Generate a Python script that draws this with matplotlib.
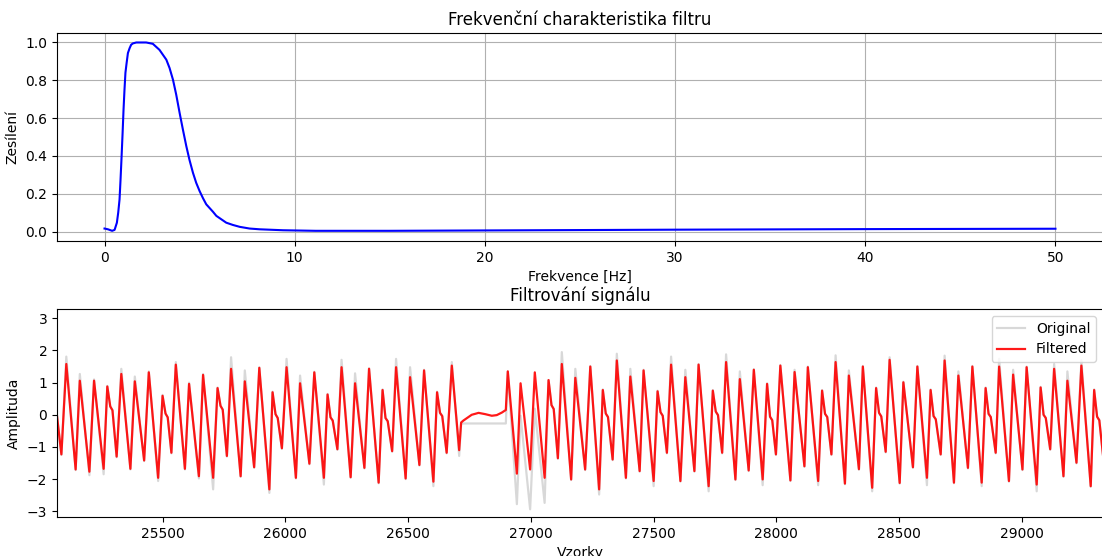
import numpy as np
import matplotlib.pyplot as plt

# frekvencni charakteristika
freq = [0, 0.18, 0.40, 0.53, 0.65, 0.72, 0.79, 0.84, 0.89, 0.95, 1.0, 1.05, 1.1,
        1.16, 1.23, 1.32, 1.4, 1.49, 1.67, 2.19, 2.54, 2.89, 3.07, 3.25, 3.42,
        3.6, 3.77, 3.95, 4.12, 4.3, 4.47, 4.65, 4.82, 5.0, 5.18, 5.35, 5.70, 5.88,
        6.4, 6.75, 7.11, 7.63, 8.16, 9.39, 11.1, 15, 20, 30, 40, 50]
gain = [0.016, 0.012, 0.004, 0.009, 0.047, 0.10, 0.17, 0.27, 0.38, 0.52, 0.645,
        0.75, 0.84, 0.89, 0.944, 0.97, 0.988, 0.995, 1.0, 1.0, 0.993, 0.961,
        0.935, 0.909, 0.865, 0.803, 0.724, 0.627, 0.54, 0.452, 0.378, 0.311,
        0.258, 0.214, 0.176, 0.144, 0.105, 0.083, 0.047, 0.035, 0.025, 0.016,
        0.012, 0.007, 0.004, 0.004, 0.006, 0.010, 0.013, 0.015]

# vrcholy signalu: vzorek, filtrovany, original
peak_x = [25108, 25163, 25221, 25275, 25332, 25387, 25444, 25500, 25554, 25608,
          25665, 25724, 25779, 25835, 25894, 25948, 26005, 26060, 26118, 26172,
          26229, 26284, 26341, 26396, 26451, 26508, 26565, 26618, 26678, 26906,
          26958, 27016, 27072, 27126, 27181, 27242, 27293, 27350, 27405, 27459,
          27516, 27571, 27629, 27683, 27741, 27795, 27851, 27908, 27962, 28016,
          28074, 28128, 28186, 28241, 28295, 28352, 28406, 28461, 28517, 28574,
          28628, 28685, 28741, 28798, 28852, 28907, 28964, 29019, 29076, 29131,
          29185, 29242, 29294]
peak_filt = [1.58, 1.06, 1.06, 0.88, 1.27, 1.04, 1.32, 0.59, 1.56, 0.96,
             1.24, 0.83, 1.43, 1.04, 1.46, 0.70, 1.48, 0.98, 1.32, 0.63,
             1.48, 0.98, 1.43, 0.77, 1.48, 1.17, 1.38, 0.70, 1.53, 1.35,
             0.98, 1.32, 1.08, 1.58, 1.15, 1.50, 0.77, 1.69, 1.19, 1.38,
             0.73, 1.56, 1.17, 1.56, 0.75, 1.64, 1.11, 1.40, 0.96, 1.53,
             1.33, 1.48, 0.75, 1.64, 1.22, 1.50, 0.83, 1.71, 1.01, 1.50,
             0.77, 1.69, 1.22, 1.50, 0.83, 1.50, 1.25, 1.48, 0.85, 1.43,
             1.06, 1.53, 0.77]
peak_orig = [1.81, 1.27, 1.10, 0.90, 1.43, 1.19, 1.35, 0.62, 1.64, 1.00,
             1.27, 0.85, 1.79, 1.38, 1.48, 0.72, 1.74, 1.22, 1.34, 0.65,
             1.71, 1.29, 1.45, 0.79, 1.74, 1.48, 1.40, 0.72, 1.64, 1.35,
             -0.03, 0.19, 1.08, 1.95, 1.43, 1.52, 0.79, 1.90, 1.43, 1.40,
             0.75, 1.81, 1.40, 1.58, 0.77, 1.88, 1.35, 1.42, 0.98, 1.55,
             1.40, 1.50, 0.77, 1.85, 1.38, 1.52, 0.85, 1.79, 1.03, 1.52,
             0.79, 1.84, 1.35, 1.52, 0.85, 1.74, 1.40, 1.50, 0.87, 1.58,
             1.35, 1.69, 0.79]

# minima signalu
trough_x = [25088, 25146, 25202, 25260, 25313, 25369, 25425, 25482, 25536, 25591,
            25648, 25706, 25762, 25818, 25873, 25935, 25986, 26043, 26098, 26157,
            26212, 26266, 26322, 26380, 26435, 26490, 26546, 26603, 26657, 26708,
            26943, 26997, 27056, 27110, 27164, 27221, 27278, 27333, 27387, 27443,
            27500, 27554, 27609, 27666, 27724, 27779, 27833, 27887, 27944, 27998,
            28057, 28114, 28170, 28224, 28279, 28336, 28390, 28445, 28502, 28556,
            28613, 28669, 28723, 28780, 28836, 28893, 28947, 29002, 29060, 29115,
            29169, 29222, 29280]
trough_filt = [-1.23, -1.70, -1.77, -1.68, -1.30, -1.68, -1.42, -1.96, -1.18, -1.68,
               -1.91, -1.96, -1.28, -1.91, -1.63, -2.32, -1.04, -1.96, -1.52, -1.96,
               -1.07, -1.94, -1.65, -2.11, -1.13, -1.98, -1.56, -2.08, -1.18, -1.10,
               -1.83, -1.70, -1.96, -1.35, -2.01, -1.70, -2.32, -1.39, -1.96, -1.75,
               -2.06, -1.18, -2.06, -1.75, -2.22, -1.18, -2.01, -1.73, -2.01, -1.23,
               -2.04, -1.60, -2.06, -1.23, -2.14, -1.69, -2.27, -1.15, -2.12, -1.63,
               -1.96, -1.23, -2.11, -1.65, -2.11, -1.18, -2.06, -1.70, -2.17, -1.07,
               -1.91, -1.49, -2.22]
trough_orig = [-1.25, -1.72, -1.88, -1.85, -1.32, -1.70, -1.44, -2.06, -1.20, -1.70,
               -1.98, -2.32, -1.30, -1.93, -1.65, -2.43, -1.06, -1.98, -1.54, -2.17,
               -1.09, -1.96, -1.67, -2.13, -1.15, -2.00, -1.58, -2.22, -1.20, -1.28,
               -2.78, -2.94, -2.74, -1.37, -2.03, -1.72, -2.48, -1.41, -1.98, -1.77,
               -2.22, -1.20, -2.08, -1.77, -2.38, -1.20, -2.03, -1.75, -2.19, -1.25,
               -2.06, -1.62, -2.19, -1.25, -2.16, -1.71, -2.38, -1.17, -2.14, -1.65,
               -2.19, -1.25, -2.13, -1.67, -2.22, -1.20, -2.08, -1.72, -2.38, -1.09,
               -1.93, -1.51, -2.24]

# zuby (notch) za mensimi vrcholy
notch_x = [25287, 25296, 25512, 25521, 25736, 25745, 25960, 25969, 26184, 26193,
           26408, 26417, 26630, 26639, 27084, 27093, 27305, 27314, 27528, 27537,
           27753, 27762, 27974, 27983, 28198, 28207, 28418, 28427, 28640, 28649,
           28864, 28873, 29088, 29097, 29306, 29315]
notch_y = [0.26, 0.14, 0.04, -0.08, 0.28, 0.16, 0.02, -0.10, -0.08, -0.18,
           -0.10, -0.20, 0.06, -0.04, 0.30, 0.18, 0.04, -0.07, 0.08, -0.03,
           0.10, -0.01, -0.06, -0.17, 0.03, -0.07, 0.06, -0.05, -0.04, -0.14,
           0.03, -0.07, 0.00, -0.10, -0.06, -0.17]

# vypadek signalu
gap_x = [26716, 26725, 26759, 26787, 26814, 26841, 26861, 26882, 26898]
gap_filt = [-0.24, -0.18, 0.0, 0.06, 0.02, -0.03, -0.01, 0.07, 0.15]
gap_orig = [-0.27, -0.27, -0.27, -0.27, -0.27, -0.27, -0.27, -0.27, -0.27]

edge_x = [25070, 29330]
edge_y = [-0.03, -1.25]

xs = np.array(peak_x + trough_x + notch_x + gap_x + edge_x)
yf = np.array(peak_filt + trough_filt + notch_y + gap_filt + edge_y)
yo = np.array(peak_orig + trough_orig + notch_y + gap_orig + edge_y)
order = np.argsort(xs)

fig = plt.figure(figsize=(11.02, 5.56), dpi=100)

ax1 = fig.add_axes([0.0517, 0.5665, 0.9492, 0.3741])
ax1.plot(freq, gain, 'b')
ax1.set_title('Frekvenční charakteristika filtru')
ax1.set_xlabel('Frekvence [Hz]')
ax1.set_ylabel('Zesílení')
ax1.set_ylim(-0.05, 1.05)
ax1.grid(True)

ax2 = fig.add_axes([0.0517, 0.0701, 0.9492, 0.3741])
ax2.plot(xs[order], yo[order], color='gray', alpha=0.3, lw=1.6,
         solid_joinstyle='round', label='Original')
ax2.plot(xs[order], yf[order], color='r', alpha=0.9, lw=1.6,
         solid_joinstyle='round', label='Filtered')
ax2.set_title('Filtrování signálu')
ax2.set_xlabel('Vzorky')
ax2.set_ylabel('Amplituda')
ax2.set_xlim(25070, 29330)
ax2.set_ylim(-3.18, 3.29)
ax2.legend(loc='upper right')

plt.savefig('out.png', dpi=100)
